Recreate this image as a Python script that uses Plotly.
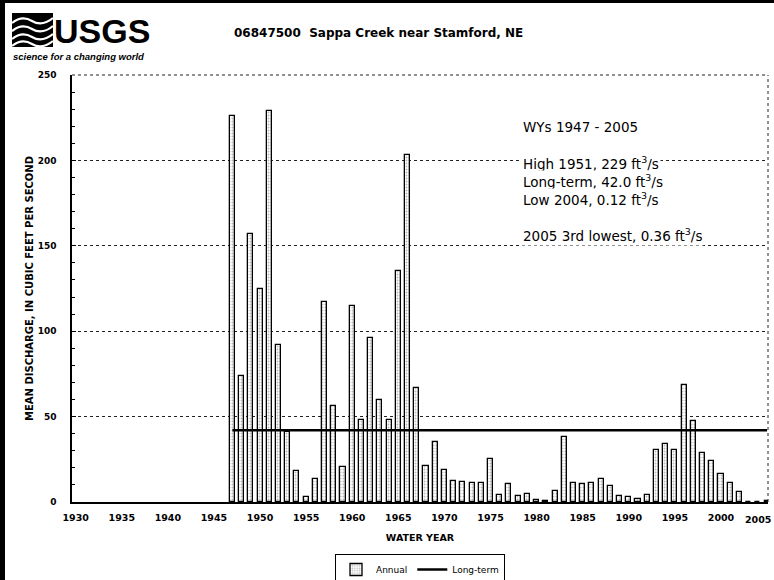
import plotly.graph_objects as go

# ---------------- data ----------------
years = list(range(1947, 2006))
annual = [226, 74, 157, 125, 229, 92, 41, 18, 3, 13.5,
          117, 56, 20.5, 115, 48, 96, 60, 48, 135, 203,
          67, 21, 35, 19, 12.5, 12, 11, 11, 25, 4,
          10.5, 3.5, 4.7, 1.0, 0.6, 6.5, 38, 11, 10.5, 11,
          13.5, 9.5, 3.5, 3, 2, 4, 30.5, 34, 30.5, 68.5,
          47.5, 28.5, 24, 16.5, 11, 6, 0.25, 0.12, 0.36]
long_term = 42.0
x_ticks = list(range(1930, 2005, 5))
last_tick = 2005
y_ticks = [0, 50, 100, 150, 200, 250]

title_text = "06847500  Sappa Creek near Stamford, NE"
notes = [
    ("WYs 1947 - 2005", 127),
    ("High 1951, 229 ft<sup>3</sup>/s", 163),
    ("Long-term, 42.0 ft<sup>3</sup>/s", 181),
    ("Low 2004, 0.12 ft<sup>3</sup>/s", 199),
    ("2005 3rd lowest, 0.36 ft<sup>3</sup>/s", 235),
]

# ---------------- layout geometry (pixels) ----------------
W, H = 774, 580
L, R, T, B = 72, 768, 75, 502


def px(x):
    return (x - L) / (R - L)


def py(y):
    return (B - y) / (B - T)


fig = go.Figure()
fig.add_trace(go.Bar(
    x=years, y=annual, name="Annual", width=0.55,
    marker=dict(color="white", line=dict(color="black", width=1.3),
                pattern=dict(shape=".", fgcolor="#777777", bgcolor="white",
                             size=3, solidity=0.35)),
))
fig.add_trace(go.Scatter(
    x=[years[0], years[-1]], y=[long_term, long_term], mode="lines",
    name="Long-term", line=dict(color="black", width=2.5),
))

FONT = "DejaVu Sans, Arial, sans-serif"

shapes = []
# dotted top and right borders
shapes.append(dict(type="line", xref="paper", yref="paper", x0=0, x1=1, y0=1, y1=1,
                   line=dict(color="#222", width=1, dash="dot")))
shapes.append(dict(type="line", xref="paper", yref="paper", x0=1, x1=1, y0=0, y1=1,
                   line=dict(color="#222", width=1, dash="dot")))
# scan black borders
shapes.append(dict(type="rect", xref="paper", yref="paper", x0=px(0), x1=px(5), y0=py(H), y1=py(0),
                   fillcolor="black", line=dict(width=0), layer="above"))
shapes.append(dict(type="rect", xref="paper", yref="paper", x0=px(0), x1=px(W), y0=py(3), y1=py(0),
                   fillcolor="black", line=dict(width=0), layer="above"))
# logo wave block
shapes.append(dict(type="rect", xref="paper", yref="paper", x0=px(12), x1=px(53), y0=py(47), y1=py(13),
                   fillcolor="black", line=dict(width=0), layer="above"))
for yy in (20, 28, 36, 43):
    p = "M {:.4f} {:.4f} Q {:.4f} {:.4f} {:.4f} {:.4f} T {:.4f} {:.4f}".format(
        px(12), py(yy + 3), px(22), py(yy - 5), px(32), py(yy + 1), px(53), py(yy - 2))
    shapes.append(dict(type="path", xref="paper", yref="paper", path=p,
                       line=dict(color="white", width=2.2), layer="above"))

annotations = []
annotations.append(dict(xref="paper", yref="paper", x=px(52), y=py(31), xanchor="left", yanchor="middle",
                        text="USGS", showarrow=False,
                        font=dict(family="Liberation Sans, Arial, sans-serif",
                                  size=34, color="black", weight="bold")))
annotations.append(dict(xref="paper", yref="paper", x=px(11), y=py(57), xanchor="left", yanchor="middle",
                        text="<i>science for a changing world</i>", showarrow=False,
                        font=dict(family="Liberation Sans, Arial, sans-serif", size=9.5, color="black", weight="bold")))
annotations.append(dict(xref="paper", yref="paper", x=px(232), y=py(33), xanchor="left", yanchor="middle",
                        text=title_text, showarrow=False,
                        font=dict(family=FONT, size=12, color="black", weight="bold")))
for txt, yy in notes:
    annotations.append(dict(xref="paper", yref="paper", x=px(521), y=py(yy), xanchor="left", yanchor="middle",
                            text=txt, showarrow=False, bgcolor="white", borderpad=1,
                            font=dict(family=FONT, size=13.5, color="black")))
# last x tick label (at the right edge in the original scan)
annotations.append(dict(xref="paper", yref="paper", x=px(W - 1), y=py(519), xanchor="right", yanchor="middle",
                        text=str(last_tick), showarrow=False,
                        font=dict(family=FONT, size=9.5, color="black", weight="bold")))

fig.update_layout(
    width=W, height=H,
    margin=dict(l=L, r=W - R, t=T, b=H - B, autoexpand=False),
    paper_bgcolor="white", plot_bgcolor="white",
    bargap=0,
    shapes=shapes, annotations=annotations,
    showlegend=True,
    legend=dict(orientation="h", xanchor="center", yanchor="top", x=px(420), y=py(554),
                bordercolor="black", borderwidth=1, bgcolor="white",
                font=dict(family=FONT, size=9, color="black"),
                itemwidth=30, tracegroupgap=0),
    xaxis=dict(range=[1929.6, 2005.1], tickmode="array", tickvals=x_ticks,
               ticktext=[str(v) for v in x_ticks], showgrid=False, zeroline=False,
               showline=True, linecolor="black", linewidth=1.5, ticks="",
               ticklabelstandoff=6,
               tickfont=dict(family=FONT, size=9.5, color="black", weight="bold"),
               title=dict(text="WATER YEAR", standoff=12,
                          font=dict(family=FONT, size=9.5, color="black", weight="bold"))),
    yaxis=dict(range=[0, 250], tickmode="array", tickvals=y_ticks,
               showgrid=True, gridcolor="#222", griddash="dot", gridwidth=1,
               zeroline=False, showline=True, linecolor="black", linewidth=1.5,
               ticks="inside", ticklen=4, tickcolor="black",
               minor=dict(dtick=10, ticks="inside", ticklen=3, tickcolor="black", showgrid=False),
               ticklabelstandoff=12,
               tickfont=dict(family=FONT, size=9, color="black", weight="bold"),
               title=dict(text="MEAN DISCHARGE, IN CUBIC FEET PER SECOND", standoff=2,
                          font=dict(family=FONT, size=10, color="black", weight="bold"))),
)

fig.write_html("out.html", config={"displayModeBar": False},
               post_script="document.body.style.margin='0';document.body.style.overflow='hidden';")
